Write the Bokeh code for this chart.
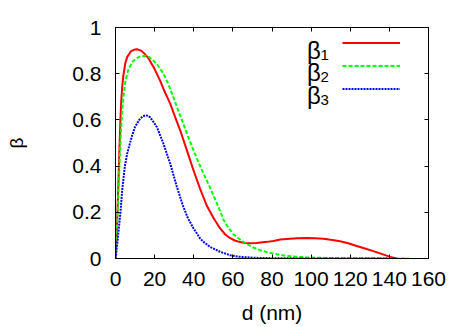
from bokeh.plotting import figure
from bokeh.models import (Range1d, FixedTicker, LinearAxis, Legend, LegendItem, Label,
                          CustomLabelingPolicy)
from bokeh.embed import file_html
from bokeh.resources import INLINE

# ---- data ----
d1 = [0, 0.5, 1, 1.5, 2, 2.5, 3, 3.5, 4, 5, 6, 8, 10, 11, 13, 15, 17, 20, 22.8, 25,
      28, 30.5, 33.1, 36.5, 39.9, 43.3, 46.7, 50.1, 53.5, 56, 58.6, 61, 63.7, 66, 68.8,
      72, 77.4, 80.7, 84.2, 89.3, 93, 97.7, 102, 106.3, 110, 114.8, 119, 123.3, 127.5,
      131.8, 136, 140.4, 143.8]
beta1 = [0, 0.09, 0.2, 0.33, 0.47, 0.6, 0.69, 0.75, 0.79, 0.845, 0.873, 0.898, 0.905, 0.906,
         0.9, 0.885, 0.865, 0.82, 0.77, 0.725, 0.669, 0.612, 0.554, 0.468, 0.381, 0.3, 0.228,
         0.175, 0.13, 0.105, 0.088, 0.078, 0.071, 0.067, 0.066, 0.067, 0.072, 0.076, 0.082,
         0.086, 0.088, 0.089, 0.088, 0.085, 0.081, 0.075, 0.066, 0.054, 0.043, 0.032, 0.02,
         0.007, 0.0]

d2 = [0, 0.5, 1, 1.5, 2, 2.5, 3, 3.5, 4.2, 5.1, 6.5, 8.5, 10.5, 12.5, 15.3, 17, 19.4, 21.3,
      24.5, 27, 29.6, 32, 34.7, 37, 39.9, 42.5, 45, 47.5, 50.1, 53.5, 55.2, 57.5, 60.3, 63.5,
      67.1, 70, 73.9, 78, 82.5, 87, 92, 97.6, 104, 110, 120, 130, 140, 150]
beta2 = [0, 0.08, 0.18, 0.29, 0.4, 0.5, 0.58, 0.645, 0.71, 0.77, 0.815, 0.85, 0.866, 0.874,
         0.878, 0.873, 0.856, 0.84, 0.8, 0.755, 0.698, 0.642, 0.583, 0.53, 0.468, 0.415,
         0.367, 0.322, 0.273, 0.205, 0.168, 0.135, 0.105, 0.083, 0.063, 0.049, 0.036, 0.026,
         0.018, 0.012, 0.008, 0.005, 0.003, 0.002, 0.001, 0.001, 0.0, 0.0]

d3 = [0, 0.9, 1.7, 2.55, 3.4, 4.8, 6, 7.3, 8.6, 9.9, 12.1, 13.7, 15.3, 16.5, 17.7, 19.5, 21.2,
      24.5, 28, 31.4, 34.7, 37, 39.9, 43.3, 45, 48.4, 50.1, 53.5, 58.6, 63, 68.8, 75, 85,
      100, 120, 143]
beta3 = [0, 0.065, 0.13, 0.2, 0.295, 0.4, 0.455, 0.497, 0.535, 0.568, 0.6, 0.614, 0.62, 0.618,
         0.611, 0.59, 0.568, 0.497, 0.41, 0.309, 0.223, 0.175, 0.13, 0.086, 0.072, 0.05,
         0.043, 0.029, 0.014, 0.008, 0.004, 0.002, 0.001, 0.0, 0.0, 0.0]

x_ticks = [0, 20, 40, 60, 80, 100, 120, 140, 160]
y_ticks = [0, 0.2, 0.4, 0.6, 0.8, 1.0]
y_tick_labels = ["0", "0.2", "0.4", "0.6", "0.8", "1"]
series_subscripts = ["1", "2", "3"]
series_colors = ["#ff0000", "#00ff00", "#0000ff"]
series_dash = ["solid", "4 2", "2 1"]
x_label = "d (nm)"
y_label = "β"

FONT = "Liberation Sans"
TICK_FS = "21px"

p = figure(width=459, height=326, x_range=Range1d(0, 160), y_range=Range1d(0, 1),
           output_backend="svg", toolbar_location=None,
           min_border_left=115, min_border_right=31, min_border_top=27, min_border_bottom=68,
           x_axis_label=x_label, y_axis_label=y_label)
p.background_fill_color = "white"
p.border_fill_color = "white"
p.outline_line_color = "black"
p.outline_line_width = 1
p.xgrid.visible = False
p.ygrid.visible = False

p.xaxis.ticker = FixedTicker(ticks=x_ticks)
p.yaxis.ticker = FixedTicker(ticks=y_ticks)
p.yaxis.major_label_overrides = {t: s for t, s in zip(y_ticks, y_tick_labels)}

for ax in [p.xaxis[0], p.yaxis[0]]:
    ax.major_tick_in = 4
    ax.major_tick_out = 0
    ax.minor_tick_line_color = None
    ax.axis_line_color = "black"
    ax.major_tick_line_color = "black"
    ax.major_label_text_font = FONT
    ax.major_label_text_font_size = TICK_FS
    ax.major_label_text_color = "black"
    ax.axis_label_text_font = FONT
    ax.axis_label_text_font_style = "normal"
    ax.axis_label_text_color = "black"

p.xaxis.axis_label_text_font_size = TICK_FS
p.yaxis.axis_label_text_font_size = "19px"
p.xaxis.major_label_standoff = 13
p.xaxis.axis_label_standoff = 12
p.yaxis.major_label_standoff = 14
p.yaxis.axis_label_standoff = 42

no_labels = """
for (let i = 0; i < indices.size; i++) { indices.unset(i) }
return indices
"""
top = LinearAxis(ticker=FixedTicker(ticks=x_ticks),
                 major_label_policy=CustomLabelingPolicy(code=no_labels),
                 major_tick_in=4, major_tick_out=0, minor_tick_line_color=None,
                 major_label_standoff=0, axis_line_color="black")
right = LinearAxis(ticker=FixedTicker(ticks=y_ticks),
                   major_label_policy=CustomLabelingPolicy(code=no_labels),
                   major_tick_in=4, major_tick_out=0, minor_tick_line_color=None,
                   major_label_standoff=0, axis_line_color="black")
p.add_layout(top, "above")
p.add_layout(right, "right")

renderers = []
for xs, ys, c, dash in zip([d1, d2, d3], [beta1, beta2, beta3], series_colors, series_dash):
    r = p.line(xs, ys, line_color=c, line_width=2, line_dash=dash, line_join="round")
    renderers.append(r)

legend = Legend(items=[LegendItem(label=" ", renderers=[r]) for r in renderers],
                location=(227, 158), padding=0, margin=0, spacing=0,
                glyph_width=58, glyph_height=23, label_height=23, label_standoff=0,
                label_text_font_size="12px", border_line_color=None,
                background_fill_alpha=0)
p.add_layout(legend)

for i, sub in enumerate(series_subscripts):
    p.add_layout(Label(x=191.5, y=208.3 - 22.7 * i, x_units="screen", y_units="screen",
                       text="β", text_font=FONT, text_font_size="24px",
                       text_align="left", text_baseline="alphabetic", text_color="black"))
    p.add_layout(Label(x=205, y=204 - 22.7 * i, x_units="screen", y_units="screen",
                       text=sub, text_font=FONT, text_font_size="15px",
                       text_align="left", text_baseline="alphabetic", text_color="black"))

open("out.html", "w").write(file_html(p, INLINE))
